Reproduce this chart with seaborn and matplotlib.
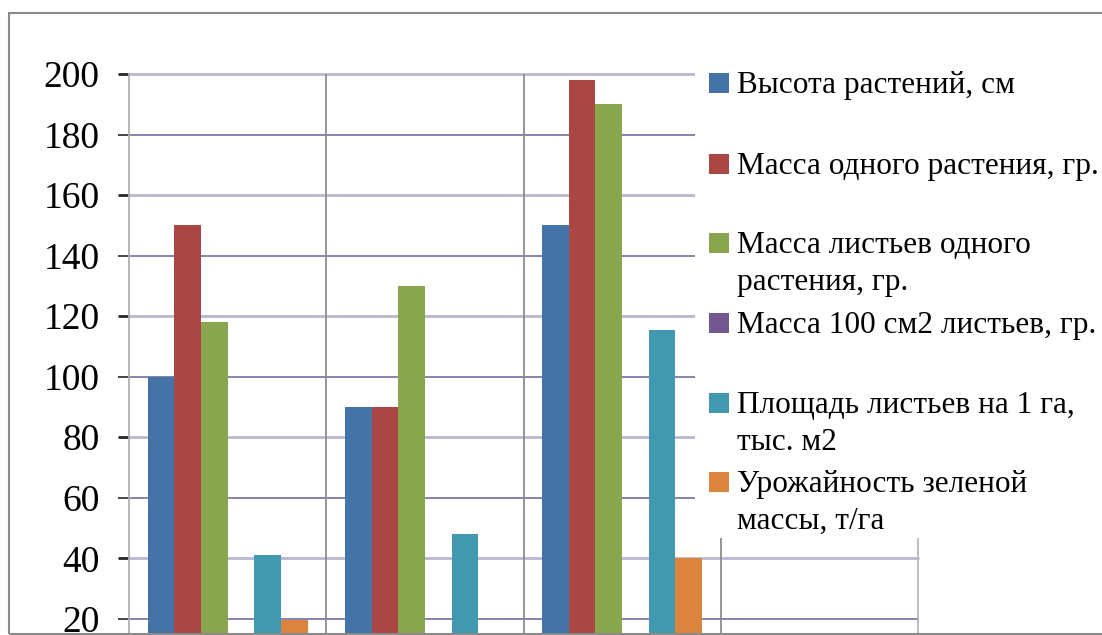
import matplotlib
matplotlib.use("Agg")
import matplotlib.pyplot as plt
import seaborn as sns
import pandas as pd
from matplotlib.patches import Rectangle

# ---------------- data ----------------
categories = ["Вариант 1", "Вариант 2", "Вариант 3", "Вариант 4"]
series = [
    "Высота растений, см",
    "Масса одного растения, гр.",
    "Масса листьев одного\nрастения, гр.",
    "Масса 100 см2 листьев, гр.",
    "Площадь листьев на 1 га,\nтыс. м2",
    "Урожайность зеленой\nмассы, т/га",
]
plant_height = [100, 90, 150]
plant_mass = [150, 90, 198]
leaf_mass = [118, 130, 190]
leaf_mass_100cm2 = [0.6, 0.6, 0.7]
leaf_area = [41, 48, 115.5]
green_yield = [19.6, 13, 40]
yticks = [20, 40, 60, 80, 100, 120, 140, 160, 180, 200]

colors = ["#4572A7", "#AA4643", "#89A54E", "#71588F", "#4198AF", "#DB843D"]

values = [plant_height, plant_mass, leaf_mass, leaf_mass_100cm2, leaf_area, green_yield]
rows = []
for s, vals in zip(series, values):
    for c, v in zip(categories, vals):
        rows.append({"cat": c, "series": s, "value": v})
df = pd.DataFrame(rows)

# ---------------- figure ----------------
W, H = 1102, 635
sns.set_theme(style="white")
plt.rcParams["font.family"] = ["Liberation Serif", "DejaVu Serif"]

fig = plt.figure(figsize=(W / 100, H / 100), dpi=100)
ax = fig.add_axes([129 / W, 1 / H, (918 - 129) / W, (634 - 74) / H])

sns.barplot(data=df, x="cat", y="value", hue="series", order=categories,
            hue_order=series, palette=colors, saturation=1, width=0.81,
            gap=0, linewidth=0, legend=False, ax=ax, zorder=3)

ax.set_xlim(-0.5, len(categories) - 0.5)
ax.set_ylim(15, 200)
ax.set_yticks(yticks)
ax.set_xlabel("")
ax.set_ylabel("")
ax.set_xticks([])
ax.tick_params(axis="y", labelsize=27, length=8, width=1.2, pad=13, left=True,
               labelcolor="black")

# horizontal gridlines, alternating tones as in the reference
ax.yaxis.grid(True, zorder=0)
light, dark = "#B8B8D0", "#6F6FA0"
for v, gl, tk in zip(yticks, ax.get_ygridlines(), ax.yaxis.get_major_ticks()):
    col, lw = (light, 2.0) if (v // 20) % 2 == 0 else (dark, 1.2)
    gl.set_color(col)
    gl.set_linewidth(lw)
    gl.set_clip_on(False)
    tk.tick1line.set_color(col)
    tk.tick1line.set_markeredgewidth(lw)

# vertical separators between categories
for xv in [0.5, 1.5, 2.5]:
    ax.axvline(xv, color="#8C8C8C", lw=1.3, zorder=1)
for sp in ["top", "bottom"]:
    ax.spines[sp].set_visible(False)
ax.spines["left"].set_color("#B0B0B0")
ax.spines["right"].set_color("#B8B8B8")
ax.spines["left"].set_linewidth(1.3)
ax.spines["right"].set_linewidth(1.3)
ax.set_facecolor("white")

def fx(px):
    return px / W

def fy(py):
    return 1 - py / H

# white legend area covering gridlines
fig.patches.append(Rectangle((fx(695), fy(538)), fx(W - 695 + 5), (538 - 50) / H,
                             transform=fig.transFigure, facecolor="white",
                             edgecolor="none", zorder=5))

# legend entries
square_tops = [73, 154, 233, 313, 393, 472]
for s, col, top in zip(series, colors, square_tops):
    fig.patches.append(Rectangle((fx(709), fy(top + 20)), 20 / W, 20 / H,
                                 transform=fig.transFigure, facecolor=col,
                                 edgecolor="none", zorder=6))
    for i, line in enumerate(s.split("\n")):
        fig.text(fx(737), fy(top + 20 + 37 * i), line, fontsize=22.5,
                 va="baseline", ha="left", color="black", zorder=7)

# outer chart frame
fig.patches.append(Rectangle((fx(9), fy(634)), fx(W), (634 - 13) / H,
                             transform=fig.transFigure, facecolor="none",
                             edgecolor="#8A8A8A", lw=1.5, zorder=8))

fig.savefig("out.png", dpi=100, facecolor="white")
